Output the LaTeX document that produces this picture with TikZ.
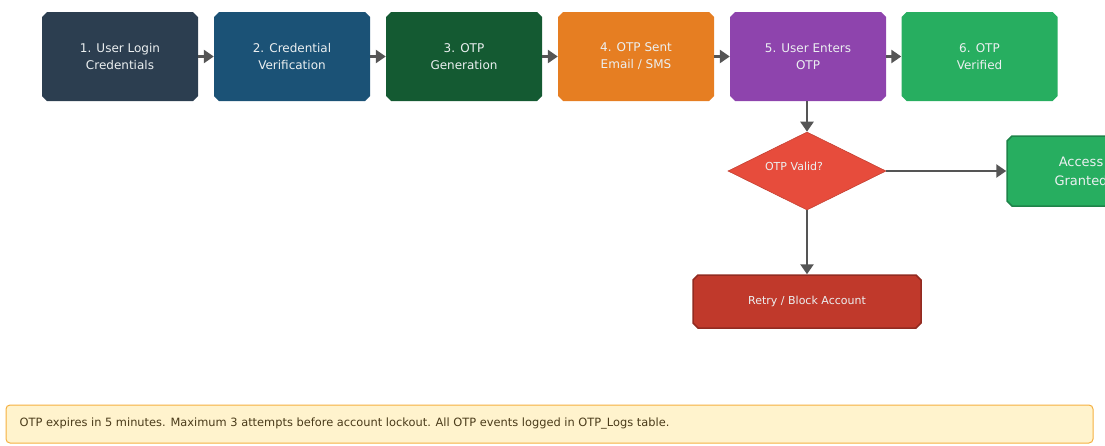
\documentclass[tikz,border=0pt]{standalone}
\usepackage{fontspec}
\setmainfont{DejaVu Sans}
\usetikzlibrary{shapes.misc,shapes.geometric,arrows.meta}

\definecolor{cLogin}{HTML}{2C3E50}
\definecolor{cVerify}{HTML}{1B5276}
\definecolor{cGen}{HTML}{145A32}
\definecolor{cSent}{HTML}{E67E22}
\definecolor{cEnter}{HTML}{8E44AD}
\definecolor{cOk}{HTML}{27AE60}
\definecolor{cOkEdge}{HTML}{1E8449}
\definecolor{cDecide}{HTML}{E74C3C}
\definecolor{cRetry}{HTML}{C0392B}
\definecolor{cRetryEdge}{HTML}{922B21}
\definecolor{cLine}{HTML}{555555}
\definecolor{cNoteFill}{HTML}{FFF3CD}
\definecolor{cNoteEdge}{HTML}{F5B041}
\definecolor{cNoteText}{HTML}{4A3B1A}
\definecolor{cLabel}{HTML}{ECF0F1}

\tikzset{
  x=1pt, y=-1pt,
  stepbox/.style={chamfered rectangle, chamfered rectangle xsep=2.5pt,
    chamfered rectangle ysep=2.5pt, minimum width=156pt, minimum height=89pt,
    inner sep=0pt, align=center, text=cLabel,
    font=\fontsize{12}{17}\selectfont},
  outcome/.style={chamfered rectangle, chamfered rectangle xsep=2.5pt,
    chamfered rectangle ysep=2.5pt, inner sep=0pt, align=center,
    text=cLabel, line width=1.5pt},
  decision/.style={diamond, minimum width=158pt, minimum height=78pt,
    inner sep=0pt, fill=cDecide, draw=cDecide!85!black, line width=0.6pt},
  flow/.style={draw=cLine, line width=2.6pt,
    -{Triangle[length=10pt,width=13pt]}},
}

\begin{document}
\begin{tikzpicture}
\useasboundingbox (0,0) rectangle (1105,445);

% main sequence
\node[stepbox, fill=cLogin]  (s1) at (120,56.5) {1. User Login\\Credentials};
\node[stepbox, fill=cVerify] (s2) at (292,56.5) {2. Credential\\Verification};
\node[stepbox, fill=cGen]    (s3) at (464,56.5) {3. OTP\\Generation};
\node[stepbox, fill=cSent]   (s4) at (636,56.5) {4. OTP Sent\\Email / SMS};
\node[stepbox, fill=cEnter]  (s5) at (808,56.5) {5. User Enters\\OTP};
\node[stepbox, fill=cOk]     (s6) at (979.5,56.5) {6. OTP\\Verified};

\foreach \a/\b in {s1/s2, s2/s3, s3/s4, s4/s5, s5/s6}
  \draw[flow] (\a.east) -- (\b.west);

% decision branch
\node[decision, label={[xshift=-13pt, yshift=5pt, text=cLabel,
  font=\fontsize{11}{12}\selectfont]center:OTP Valid?}] (valid) at (807,171) {};

\node[outcome, fill=cOk, draw=cOkEdge, minimum width=148pt, minimum height=70pt,
  font=\fontsize{13}{19}\selectfont] (granted) at (1081,171) {Access\\Granted};

\node[outcome, fill=cRetry, draw=cRetryEdge, minimum width=228pt, minimum height=53pt,
  font=\fontsize{11}{13}\selectfont] (retry) at (807,301.5) {Retry / Block Account};

\draw[flow] (s5.south -| valid.north) -- (valid.north);
\draw[flow] (valid.east) -- (granted.west);
\draw[flow] (valid.south) -- (retry.north);

% footnote
\node[draw=cNoteEdge, fill=cNoteFill, rounded corners=4pt, line width=1pt,
  minimum width=1087pt, minimum height=38pt, inner sep=0pt] (note) at (549.5,424) {};
\node[anchor=west, text=cNoteText, font=\fontsize{11.4}{13}\selectfont, inner sep=0pt]
  (notetext) at ([xshift=14pt]note.west)
  {OTP expires in 5 minutes. Maximum 3 attempts before account lockout. All OTP events logged in OTP\_Logs table.};
\end{tikzpicture}
\end{document}
